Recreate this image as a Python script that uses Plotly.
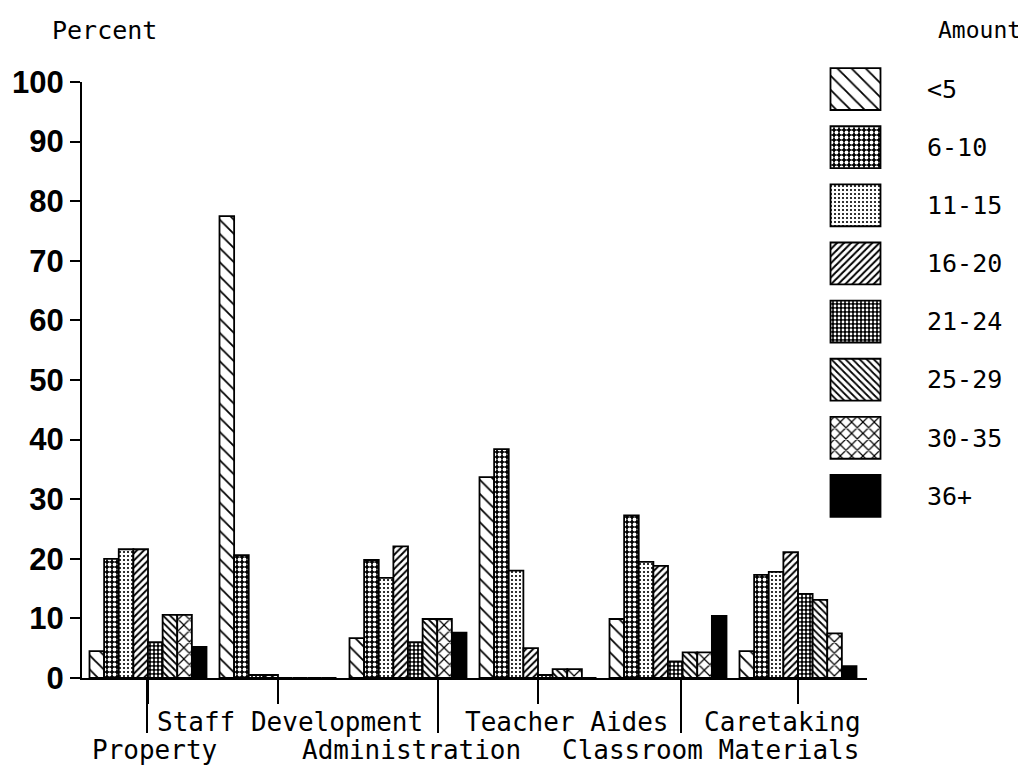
import plotly.graph_objects as go

categories = ["Property", "Staff Development", "Administration",
              "Teacher Aides", "Classroom Materials", "Caretaking"]
amounts = ["<5", "6-10", "11-15", "16-20", "21-24", "25-29", "30-35", "36+"]

# percent per amount band, one value per category (in order above)
v_lt5   = [4.5, 77.5, 6.7, 33.7, 9.9, 4.5]
v_6_10  = [20.0, 20.6, 19.8, 38.4, 27.3, 17.3]
v_11_15 = [21.6, 0.5, 16.8, 18.0, 19.5, 17.8]
v_16_20 = [21.6, 0.5, 22.1, 5.0, 18.8, 21.1]
v_21_24 = [6.0, 0.0, 6.0, 0.5, 2.8, 14.1]
v_25_29 = [10.6, 0.0, 9.9, 1.5, 4.3, 13.1]
v_30_35 = [10.6, 0.0, 9.9, 1.5, 4.3, 7.5]
v_36p   = [5.2, 0.0, 7.6, 0.0, 10.4, 2.0]
series = [v_lt5, v_6_10, v_11_15, v_16_20, v_21_24, v_25_29, v_30_35, v_36p]

yticks = [0, 10, 20, 30, 40, 50, 60, 70, 80, 90, 100]

# pattern styles per amount band
pat_shape = ["\\", ".", ".", "/", ".", "\\", "x", ""]
pat_fg    = ["black", "white", "black", "black", "white", "black", "black", "black"]
pat_bg    = ["white", "black", "white", "white", "black", "white", "white", "black"]
pat_size  = [10, 5, 4, 5, 4, 5, 8, 4]
pat_sol   = [0.18, 0.45, 0.22, 0.4, 0.38, 0.35, 0.28, 0.5]

# page body has an 8px margin: the figure is drawn 8px right/down
OFF = 8
W, H = 1026 - OFF, 766 - OFF
L, T, R, B = 82 - OFF, 60 - OFF, 0, 88
PW, PH = W - L - R, H - T - B


def px_x(p):  # p in window pixels
    return (p - OFF - L) / PW


def px_y(p):
    return (H + OFF - B - p) / PH


mono = "DejaVu Sans Mono"
fig = go.Figure()
xidx = list(range(len(categories)))
for i, vals in enumerate(series):
    fig.add_trace(go.Bar(
        x=xidx, y=vals, name=amounts[i], showlegend=False,
        marker=dict(color=pat_bg[i],
                    line=dict(color="black", width=1.8),
                    pattern=dict(shape=pat_shape[i], fgcolor=pat_fg[i],
                                 bgcolor=pat_bg[i], size=pat_size[i],
                                 solidity=pat_sol[i], fillmode="replace")),
        xaxis="x", yaxis="y"))

# legend drawn as patterned bars on its own small axes
for i, a in enumerate(amounts):
    fig.add_trace(go.Bar(
        x=[1], y=[a], orientation="h", width=0.72, offset=-0.36,
        showlegend=False, hoverinfo="skip",
        marker=dict(color=pat_bg[i], line=dict(color="black", width=1.8),
                    pattern=dict(shape=pat_shape[i], fgcolor=pat_fg[i],
                                 bgcolor=pat_bg[i], size=pat_size[i],
                                 solidity=pat_sol[i], fillmode="replace")),
        xaxis="x2", yaxis="y2"))

fig.update_layout(
    width=W, height=H,
    margin=dict(l=L, r=R, t=T, b=B),
    paper_bgcolor="white", plot_bgcolor="white",
    barmode="group", bargap=0.1, bargroupgap=0,
    xaxis=dict(domain=[0, px_x(867)], range=[-66 / 130, -66 / 130 + 785 / 130],
               showline=True, linecolor="black", linewidth=2,
               ticks="outside", ticklen=24, tickwidth=2, tickcolor="black",
               tickvals=[0, 1, 3, 5], showticklabels=False,
               showgrid=False, zeroline=False, anchor="y"),
    yaxis=dict(domain=[0, px_y(82)], range=[0, 100],
               tickvals=yticks, ticks="outside", ticklen=10, tickwidth=2,
               tickcolor="black", showline=True, linecolor="black", linewidth=2,
               showgrid=False, zeroline=False, anchor="x",
               tickfont=dict(family="Liberation Sans", size=31, color="black",
                             weight="bold")),
    xaxis2=dict(domain=[px_x(829), px_x(882)], range=[-0.03, 1.03],
                visible=False, anchor="y2"),
    yaxis2=dict(domain=[px_y(525), 1.0], range=[7.5, -0.5], type="category",
                categoryorder="array", categoryarray=amounts,
                side="right", anchor="x2", showline=False, showgrid=False,
                zeroline=False, ticks="", ticklabelstandoff=44,
                tickfont=dict(family=mono, size=25, color="black")),
    showlegend=False,
)

# long ticks for the lower row of labels
for p in [147, 438, 681]:
    fig.add_shape(type="line", xref="paper", yref="paper",
                  x0=px_x(p), x1=px_x(p), y0=0, y1=px_y(733),
                  line=dict(color="black", width=2))

upper = {"Staff Development": 155, "Teacher Aides": 463, "Caretaking": 702}
lower = {"Property": 90, "Administration": 300, "Classroom Materials": 560}
for c in categories:
    if c in upper:
        xp, yp = upper[c], 722
    else:
        xp, yp = lower[c], 750
    fig.add_annotation(text=c, xref="paper", yref="paper", x=px_x(xp),
                       y=px_y(yp), xanchor="left", yanchor="middle",
                       showarrow=False,
                       font=dict(family=mono, size=26, color="black"))

fig.add_annotation(text="Percent", xref="paper", yref="paper", x=px_x(50),
                   y=px_y(30), xanchor="left", yanchor="middle", showarrow=False,
                   font=dict(family=mono, size=25, color="black"))
fig.add_annotation(text="Amount", xref="paper", yref="paper", x=px_x(936),
                   y=px_y(30), xanchor="left", yanchor="middle", showarrow=False,
                   font=dict(family=mono, size=23, color="black"))

fig.write_html("out.html")
